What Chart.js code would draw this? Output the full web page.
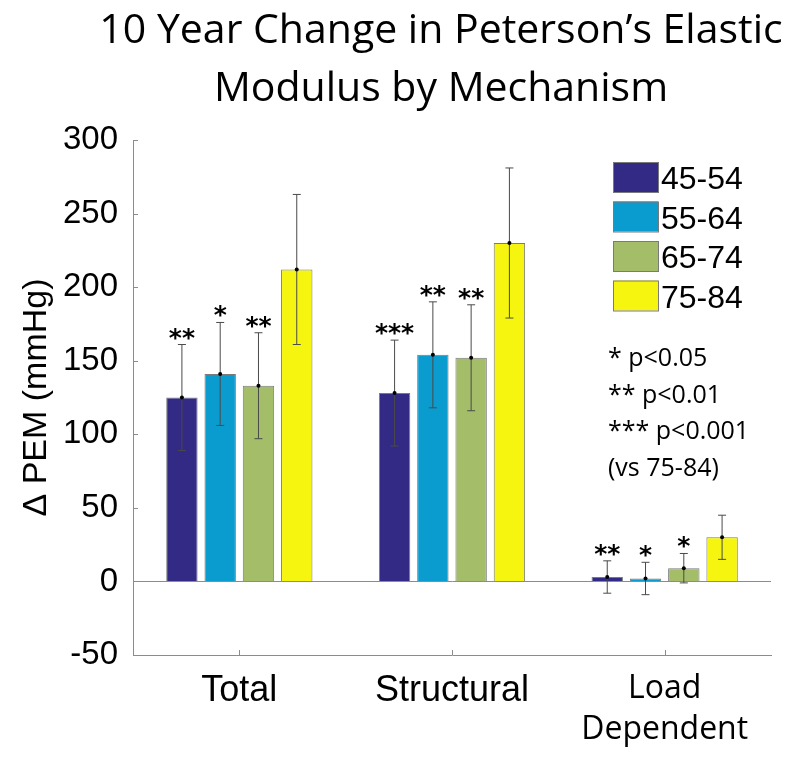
<!DOCTYPE html>
<html>
<head>
<meta charset="utf-8">
<title>10 Year Change in Peterson's Elastic Modulus by Mechanism</title>
<script src="https://cdn.jsdelivr.net/npm/chart.js@4.4.1/dist/chart.umd.min.js"></script>
<style>
  html, body { margin: 0; padding: 0; background: #fff; }
</style>
</head>
<body>
<canvas id="pemChart" width="788" height="758"></canvas>
<script>
// categories and groups
const mechanisms = ["Total", "Structural", ["Load", "Dependent"]];
const ageGroups = ["45-54", "55-64", "65-74", "75-84"];
const groupColors = ["#332a85", "#0a9bcf", "#a4bd69", "#f5f510"];

// mean 10 year change in PEM (mmHg)
const pem4554 = [125, 128, 3];
const pem5564 = [141, 154, 2];
const pem6574 = [133, 152, 9];
const pem7584 = [212, 230, 30];

// error bar half lengths (mmHg)
const err4554 = [36, 36, 11];
const err5564 = [35, 36, 11];
const err6574 = [36, 36, 10];
const err7584 = [51, 51, 15];

// significance vs 75-84
const sig4554 = ["**", "***", "**"];
const sig5564 = ["*", "**", "*"];
const sig6574 = ["**", "**", "*"];
const sig7584 = ["", "", ""];

const yTicks = [-50, 0, 50, 100, 150, 200, 250, 300];
const sigNotes = ["* p<0.05", "** p<0.01", "*** p<0.001", "(vs 75-84)"];
const titleLines = ["10 Year Change in Peterson\u2019s Elastic", "Modulus by Mechanism"];

const allValues = [pem4554, pem5564, pem6574, pem7584];
const allErrors = [err4554, err5564, err6574, err7584];
const allSigs = [sig4554, sig5564, sig6574, sig7584];

const helv = "'Liberation Sans', Arial, sans-serif";
const calib = "'Open Sans', sans-serif";

// error bars, stars, ticks, legend, notes and title
const extras = {
  id: "extras",
  afterDatasetsDraw(chart) {
    const ctx = chart.ctx;
    const y = chart.scales.y;
    ctx.save();
    chart.data.datasets.forEach((ds, i) => {
      const meta = chart.getDatasetMeta(i);
      meta.data.forEach((bar, j) => {
        const v = ds.data[j];
        const e = allErrors[i][j];
        const top = y.getPixelForValue(v + e);
        const bot = y.getPixelForValue(v - e);
        ctx.strokeStyle = "#4a4a4a";
        ctx.lineWidth = 1;
        ctx.beginPath();
        ctx.moveTo(bar.x, top);
        ctx.lineTo(bar.x, bot);
        ctx.moveTo(bar.x - 4, top);
        ctx.lineTo(bar.x + 4, top);
        ctx.moveTo(bar.x - 4, bot);
        ctx.lineTo(bar.x + 4, bot);
        ctx.stroke();
        ctx.fillStyle = "#000";
        ctx.beginPath();
        ctx.arc(bar.x, bar.y, 2, 0, Math.PI * 2);
        ctx.fill();
        const s = allSigs[i][j];
        if (s) {
          ctx.font = "bold 25px 'DejaVu Sans'";
          ctx.textAlign = "center";
          ctx.textBaseline = "alphabetic";
          ctx.fillText(s, bar.x, top + 1);
        }
      });
    });
    ctx.restore();
  },
  afterDraw(chart) {
    const ctx = chart.ctx;
    const area = chart.chartArea;
    const x = chart.scales.x;
    const y = chart.scales.y;
    ctx.save();
    ctx.strokeStyle = "#8c8c8c";
    ctx.lineWidth = 1;
    ctx.beginPath();
    yTicks.forEach(t => {
      const py = Math.round(y.getPixelForValue(t)) + 0.5;
      ctx.moveTo(area.left, py);
      ctx.lineTo(area.left + 5, py);
    });
    mechanisms.forEach((m, k) => {
      const px = Math.round(x.getPixelForValue(k)) + 0.5;
      ctx.moveTo(px, area.bottom);
      ctx.lineTo(px, area.bottom - 5);
    });
    ctx.stroke();

    // legend
    ageGroups.forEach((g, i) => {
      const top = 162 + i * 39.5;
      ctx.fillStyle = groupColors[i];
      ctx.fillRect(613, top, 45, 30);
      ctx.strokeStyle = "#7a7a7a";
      ctx.strokeRect(613.5, top + 0.5, 45, 30);
      ctx.fillStyle = "#000";
      ctx.font = "32px " + helv;
      ctx.textAlign = "left";
      ctx.textBaseline = "alphabetic";
      ctx.fillText(g, 661, top + 27);
    });

    // p value notes
    ctx.font = "25px " + calib;
    sigNotes.forEach((n, i) => {
      ctx.fillText(n, 608, 366 + i * 36.7);
    });

    // title
    ctx.font = "41px " + calib;
    ctx.textAlign = "center";
    ctx.fillText(titleLines[0], 441, 43);
    ctx.fillText(titleLines[1], 441, 101);
    ctx.restore();
  }
};

const ctxPem = document.getElementById("pemChart").getContext("2d");
new Chart(ctxPem, {
  type: "bar",
  data: {
    labels: mechanisms,
    datasets: ageGroups.map((g, i) => ({
      label: g,
      data: allValues[i],
      backgroundColor: groupColors[i],
      borderColor: "#7a7a7a",
      borderWidth: 1,
      barPercentage: 0.82,
      categoryPercentage: 0.72,
    })),
  },
  options: {
    responsive: false,
    animation: false,
    layout: { padding: { top: 140, right: 17, left: 0, bottom: 0 } },
    plugins: {
      legend: { display: false },
      tooltip: { enabled: false },
    },
    scales: {
      x: {
        grid: { drawOnChartArea: false, drawTicks: false },
        border: { color: "#8c8c8c" },
        ticks: {
          color: "#000",
          padding: 14,
          maxRotation: 0,
          font: c => (c.index === 2
            ? { family: calib, size: 32, lineHeight: 1.27 }
            : { family: helv, size: 36, lineHeight: 1.2 }),
        },
        afterFit(scale) { scale.height = 103; },
      },
      y: {
        min: -50,
        max: 300,
        afterBuildTicks(scale) { scale.ticks = yTicks.map(v => ({ value: v })); },
        grid: {
          drawTicks: false,
          color: c => (c.tick && c.tick.value === 0 ? "#8c8c8c" : "rgba(0,0,0,0)"),
        },
        border: { color: "#8c8c8c" },
        ticks: { color: "#000", padding: 15, font: { family: helv, size: 33 } },
        title: {
          display: true,
          text: "\u0394 PEM (mmHg)",
          color: "#000",
          font: { family: helv, size: 34 },
          padding: { top: 16, bottom: 0 },
        },
        afterFit(scale) { scale.width = 133; },
      },
    },
  },
  plugins: [extras],
});
</script>
</body>
</html>
